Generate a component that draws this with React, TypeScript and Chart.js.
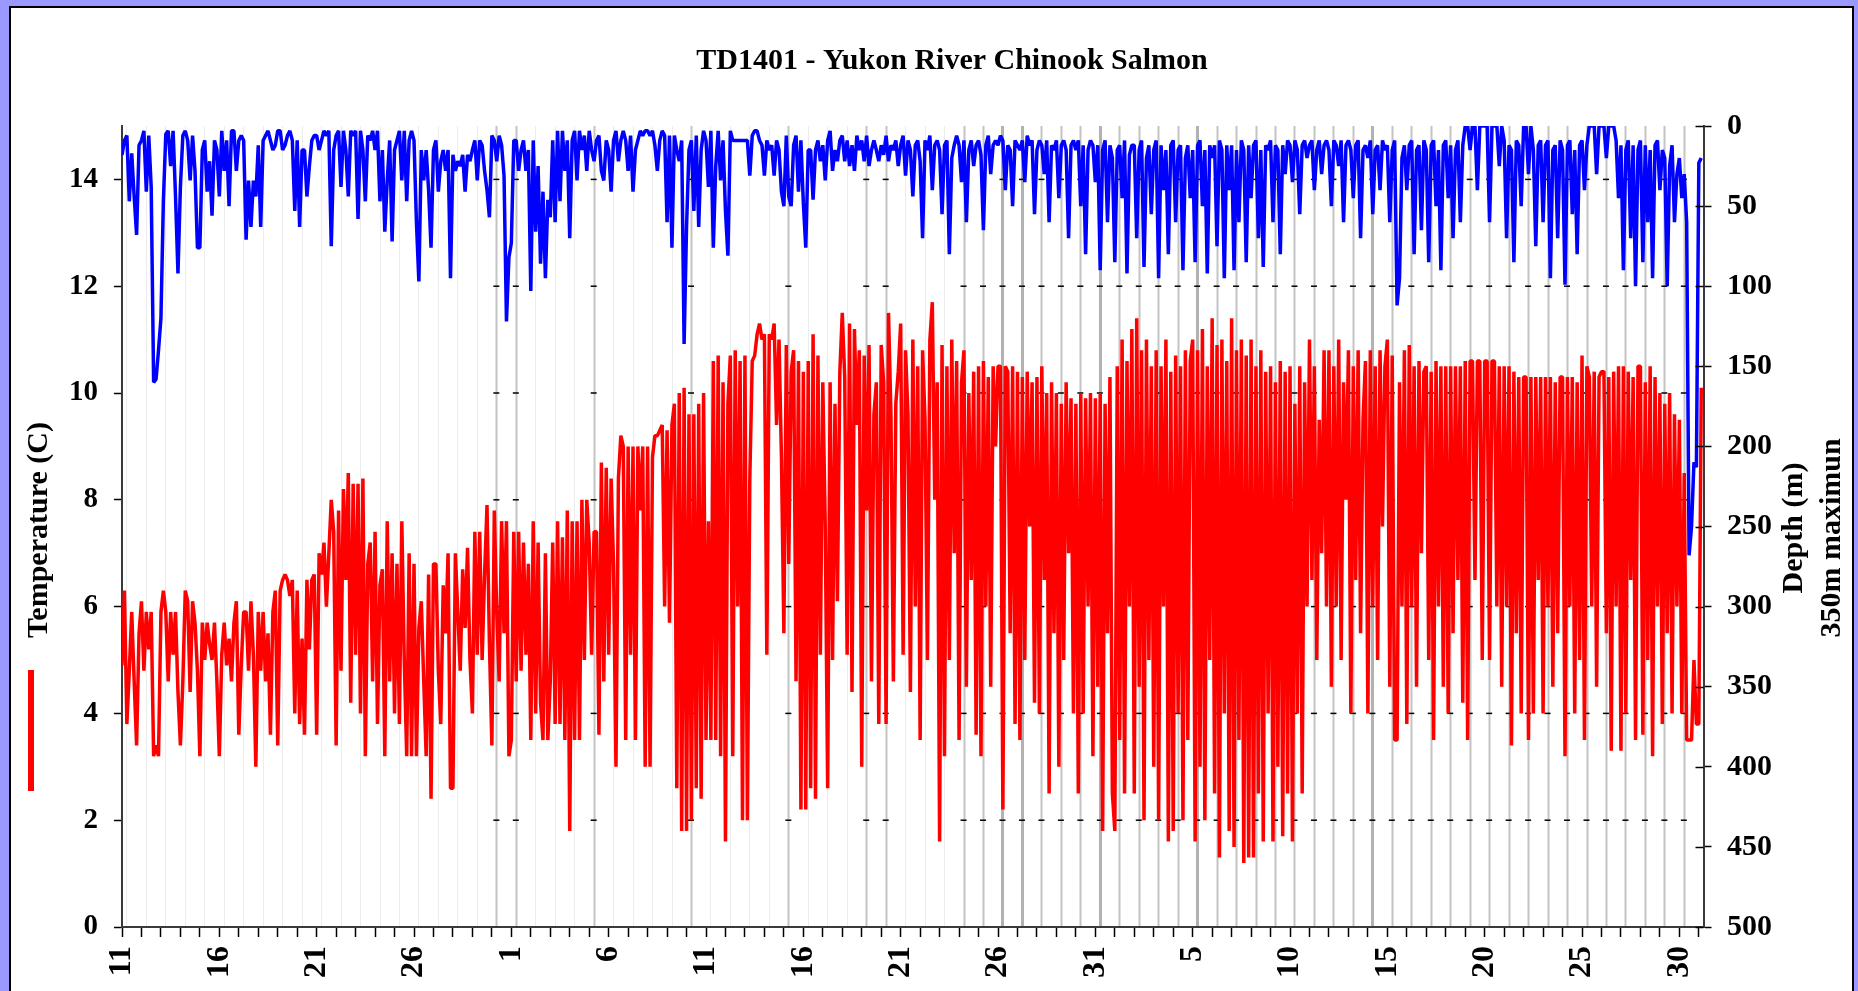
import { useEffect, useRef } from 'react';
import { Chart, registerables } from 'chart.js';

Chart.register(...registerables);

const CHART_TITLE = 'TD1401 - Yukon River Chinook Salmon';
const TEMP_AXIS_TITLE = 'Temperature (C)';
const DEPTH_AXIS_TITLE = 'Depth (m)';
const DEPTH_AXIS_NOTE = '350m maximun';

// Day-of-month labels shown every fifth day, starting 11 June.
const dateLabels = ['11', '16', '21', '26', '1', '6', '11', '16', '21', '26', '31', '5', '10', '15', '20', '25', '30'];
const tempTicks = [0, 2, 4, 6, 8, 10, 12, 14];
const depthTicks = [0, 50, 100, 150, 200, 250, 300, 350, 400, 450, 500];

// Record length in days and logger samples per day (3-hour interval).
const DAY_SPAN = 81.24;
const SAMPLES_PER_DAY = 8;

// Temperature (C), one row per day.
const temperature: number[][] = [
  [4.9, 6.3, 3.8, 4.8, 5.9, 4.6, 3.4, 5.5],
  [6.1, 4.8, 5.9, 5.2, 5.9, 3.2, 3.4, 3.2],
  [5.9, 6.3, 5.9, 4.6, 5.9, 5.1, 5.9, 4.4],
  [3.4, 4.6, 6.3, 6.1, 4.4, 6.1, 5.7, 4.8],
  [3.2, 5.7, 5.0, 5.7, 5.3, 5.0, 5.7, 4.6],
  [3.2, 5.1, 5.7, 4.9, 5.4, 4.6, 5.7, 6.1],
  [3.6, 4.9, 5.9, 5.9, 4.8, 6.1, 5.1, 3.0],
  [5.9, 4.8, 5.9, 4.6, 5.5, 3.6, 5.9, 6.3],
  [3.4, 6.3, 6.5, 6.6, 6.5, 6.2, 6.5, 4.0],
  [6.3, 3.8, 5.4, 3.6, 6.5, 5.2, 6.5, 6.6],
  [3.6, 7.0, 6.6, 7.2, 6.0, 7.0, 8.0, 7.4],
  [3.4, 7.8, 4.8, 8.2, 6.5, 8.5, 4.2, 8.3],
  [5.1, 8.3, 4.0, 8.4, 3.2, 6.8, 7.2, 4.6],
  [7.4, 3.8, 6.4, 6.7, 3.2, 7.6, 4.6, 7.0],
  [4.0, 6.8, 3.8, 7.6, 5.0, 3.2, 7.0, 3.2],
  [6.8, 3.2, 5.6, 6.1, 4.6, 3.2, 6.6, 2.4],
  [6.8, 6.8, 4.8, 3.8, 6.4, 5.5, 7.0, 2.6],
  [2.6, 7.0, 5.9, 4.8, 6.7, 5.6, 7.1, 5.0],
  [4.0, 7.4, 5.1, 7.4, 5.0, 6.6, 7.9, 5.3],
  [3.4, 7.8, 5.9, 4.6, 7.6, 5.5, 7.6, 3.2],
  [3.5, 7.4, 4.6, 7.4, 4.8, 7.2, 5.1, 6.8],
  [3.5, 7.6, 4.0, 7.2, 4.2, 3.5, 7.0, 3.5],
  [4.6, 7.2, 3.8, 7.6, 3.8, 7.3, 3.5, 7.8],
  [1.8, 7.6, 3.5, 7.6, 3.5, 8.0, 5.0, 8.0],
  [7.2, 5.1, 7.4, 7.4, 3.6, 8.7, 4.6, 8.6],
  [5.1, 8.4, 6.8, 3.0, 8.4, 9.2, 9.0, 3.5],
  [9.0, 5.1, 9.0, 3.5, 9.0, 7.8, 9.0, 3.0],
  [9.0, 3.0, 8.8, 9.2, 9.2, 9.3, 9.4, 6.0],
  [9.3, 5.7, 9.4, 9.8, 2.6, 10.0, 1.8, 10.1],
  [1.8, 9.6, 2.0, 9.6, 2.6, 9.8, 2.4, 10.0],
  [3.5, 7.6, 3.5, 10.6, 3.5, 10.7, 3.2, 10.2],
  [1.6, 9.8, 10.7, 3.2, 10.8, 6.0, 10.6, 2.0],
  [10.7, 2.0, 8.4, 10.6, 10.7, 11.1, 11.3, 11.0],
  [11.1, 5.1, 11.1, 11.0, 11.3, 9.4, 11.0, 8.8],
  [5.5, 10.9, 6.8, 10.4, 10.8, 4.6, 10.6, 2.2],
  [10.4, 2.2, 10.6, 2.6, 11.1, 2.4, 10.7, 5.1],
  [10.2, 7.5, 2.6, 10.2, 5.0, 9.8, 6.1, 10.4],
  [11.5, 10.3, 5.1, 11.3, 4.4, 11.2, 9.4, 10.8],
  [3.0, 10.7, 7.8, 10.9, 4.6, 9.6, 10.2, 3.8],
  [10.9, 10.2, 3.8, 11.5, 9.6, 4.6, 9.8, 10.4],
  [11.3, 5.1, 10.8, 9.6, 4.4, 11.0, 6.0, 10.5],
  [3.5, 10.8, 9.5, 5.0, 11.0, 11.7, 8.0, 10.2],
  [1.6, 10.9, 3.2, 10.5, 5.0, 11.0, 7.0, 10.6],
  [3.5, 10.2, 10.8, 4.5, 10.0, 6.5, 10.4, 3.6],
  [10.5, 3.2, 10.6, 6.0, 10.3, 4.5, 10.5, 9.0],
  [10.5, 10.5, 2.2, 10.5, 10.4, 5.5, 10.5, 3.8],
  [10.4, 3.5, 10.3, 5.0, 10.4, 7.5, 10.2, 4.2],
  [10.3, 4.0, 10.5, 6.5, 10.0, 2.5, 10.2, 5.5],
  [10.0, 3.0, 9.8, 5.0, 10.2, 7.0, 9.9, 4.0],
  [9.8, 2.5, 10.0, 4.0, 9.9, 6.0, 10.0, 3.2],
  [9.9, 4.5, 10.0, 1.8, 9.8, 5.5, 10.3, 2.5],
  [1.8, 10.5, 3.5, 11.0, 2.5, 10.6, 6.0, 11.2],
  [2.5, 11.4, 4.5, 10.8, 2.0, 11.0, 5.0, 10.5],
  [3.0, 10.8, 2.0, 10.5, 6.0, 11.0, 1.6, 10.4],
  [1.8, 10.7, 4.0, 10.5, 2.0, 10.8, 3.5, 10.6],
  [11.0, 1.6, 10.8, 3.0, 11.2, 2.0, 10.5, 5.0],
  [11.4, 2.5, 10.9, 1.3, 11.0, 4.0, 10.6, 1.8],
  [11.4, 1.5, 10.8, 3.5, 11.0, 1.2, 10.7, 1.3],
  [11.0, 1.3, 10.5, 2.5, 10.8, 1.6, 10.4, 4.0],
  [10.5, 1.6, 10.2, 3.0, 10.6, 1.7, 10.4, 2.5],
  [10.5, 1.6, 9.8, 4.0, 10.5, 2.5, 10.2, 6.0],
  [11.0, 6.5, 10.5, 5.0, 9.5, 7.0, 10.8, 6.0],
  [10.8, 4.5, 10.5, 6.0, 11.0, 5.0, 10.2, 8.0],
  [10.8, 4.0, 10.5, 6.5, 10.8, 5.5, 9.5, 10.6],
  [4.0, 10.8, 6.0, 10.5, 5.0, 10.8, 7.5, 10.5],
  [11.0, 4.5, 10.7, 3.5, 3.5, 10.2, 6.0, 10.8],
  [3.8, 10.9, 6.0, 10.5, 4.5, 10.6, 7.0, 10.4],
  [10.5, 5.0, 10.4, 3.5, 10.6, 6.0, 10.5, 4.5],
  [10.5, 4.0, 10.5, 5.5, 10.5, 6.5, 10.5, 4.2],
  [10.6, 3.5, 10.6, 10.6, 6.5, 10.6, 10.6, 5.0],
  [10.6, 10.6, 5.0, 10.6, 10.6, 6.0, 10.5, 4.5],
  [10.5, 6.0, 10.5, 3.4, 10.4, 5.5, 10.3, 4.0],
  [10.3, 10.3, 3.5, 10.3, 4.0, 10.3, 6.5, 10.3],
  [4.0, 10.3, 6.0, 10.3, 4.5, 10.2, 5.5, 10.3],
  [10.3, 3.2, 10.3, 6.0, 10.3, 4.0, 10.2, 5.0],
  [10.7, 3.5, 10.5, 10.3, 6.0, 10.4, 4.5, 10.3],
  [10.4, 10.4, 5.5, 10.3, 3.3, 10.4, 6.0, 10.5],
  [3.3, 10.5, 4.0, 10.4, 6.5, 10.3, 3.5, 10.5],
  [10.5, 3.6, 10.2, 5.0, 10.5, 3.2, 10.3, 6.0],
  [10.0, 3.8, 9.8, 5.5, 10.0, 4.0, 9.6, 6.0],
  [9.5, 4.0, 8.5, 3.5, 3.5, 3.5, 5.0, 3.8],
  [3.8, 10.1],
];

// Depth (m), one row per day.
const depth: number[][] = [
  [18, 9, 6, 47, 17, 44, 68, 12],
  [9, 3, 41, 6, 38, 160, 158, 140],
  [120, 47, 5, 3, 25, 3, 44, 92],
  [38, 6, 3, 9, 34, 6, 28, 76],
  [76, 15, 9, 41, 22, 56, 9, 15],
  [44, 3, 28, 9, 50, 3, 3, 28],
  [9, 6, 9, 71, 34, 63, 34, 44],
  [12, 63, 9, 6, 3, 9, 15, 12],
  [3, 3, 15, 12, 6, 3, 9, 53],
  [9, 63, 15, 15, 44, 25, 9, 6],
  [6, 15, 9, 3, 6, 3, 75, 15],
  [6, 3, 38, 3, 15, 44, 3, 6],
  [3, 58, 3, 15, 47, 6, 9, 3],
  [15, 3, 47, 15, 66, 34, 9, 72],
  [15, 9, 3, 34, 3, 47, 9, 3],
  [9, 60, 97, 15, 34, 15, 40, 76],
  [15, 9, 41, 22, 15, 28, 15, 95],
  [18, 28, 22, 25, 18, 41, 18, 22],
  [15, 9, 34, 9, 12, 28, 40, 57],
  [6, 9, 22, 6, 12, 31, 122, 82],
  [73, 9, 9, 28, 15, 9, 28, 15],
  [103, 9, 66, 25, 86, 41, 95, 46],
  [57, 9, 60, 3, 47, 3, 28, 9],
  [70, 9, 3, 34, 3, 15, 6, 28],
  [3, 15, 22, 9, 6, 28, 34, 9],
  [15, 41, 9, 3, 22, 9, 3, 9],
  [28, 6, 41, 15, 9, 3, 6, 3],
  [3, 6, 3, 12, 28, 9, 3, 6],
  [60, 6, 76, 6, 15, 22, 9, 136],
  [63, 15, 9, 53, 6, 63, 15, 3],
  [9, 38, 3, 76, 25, 3, 34, 9],
  [53, 81, 3, 9, 9, 9, 9, 9],
  [9, 9, 31, 6, 3, 3, 9, 12],
  [31, 9, 15, 12, 31, 9, 15, 41],
  [50, 6, 44, 50, 12, 6, 41, 9],
  [48, 76, 15, 15, 46, 15, 9, 22],
  [12, 34, 9, 3, 28, 15, 22, 9],
  [6, 22, 9, 25, 12, 28, 6, 15],
  [9, 22, 6, 25, 15, 9, 15, 22],
  [12, 18, 6, 22, 12, 15, 9, 25],
  [12, 6, 31, 9, 15, 44, 12, 9],
  [22, 70, 9, 15, 6, 40, 12, 9],
  [15, 55, 12, 9, 80, 20, 12, 6],
  [12, 35, 9, 60, 15, 9, 25, 12],
  [9, 18, 65, 12, 6, 30, 12, 9],
  [12, 6, 9, 40, 12, 15, 50, 9],
  [12, 15, 9, 35, 6, 12, 9, 55],
  [15, 9, 12, 30, 9, 60, 12, 15],
  [9, 45, 12, 9, 15, 70, 12, 9],
  [15, 9, 50, 12, 80, 15, 9, 12],
  [35, 12, 90, 15, 9, 60, 12, 20],
  [85, 15, 12, 45, 9, 92, 18, 12],
  [12, 70, 15, 9, 88, 20, 12, 55],
  [15, 9, 95, 12, 40, 15, 80, 12],
  [9, 60, 15, 12, 90, 20, 12, 45],
  [15, 85, 12, 9, 50, 15, 92, 12],
  [20, 12, 75, 9, 15, 95, 12, 40],
  [12, 90, 15, 60, 9, 15, 85, 12],
  [45, 12, 9, 70, 15, 88, 12, 15],
  [9, 60, 12, 15, 80, 12, 30, 9],
  [12, 35, 9, 15, 55, 12, 9, 20],
  [12, 9, 40, 15, 9, 30, 12, 9],
  [15, 50, 9, 12, 25, 9, 60, 12],
  [9, 15, 45, 12, 9, 70, 15, 12],
  [20, 9, 55, 15, 12, 40, 9, 15],
  [12, 60, 15, 9, 112, 95, 20, 12],
  [40, 12, 9, 80, 15, 12, 65, 9],
  [15, 85, 12, 9, 50, 15, 90, 12],
  [9, 45, 12, 70, 15, 9, 60, 12],
  [0, 0, 15, 0, 0, 40, 0, 0],
  [0, 0, 60, 0, 0, 0, 25, 0],
  [9, 70, 12, 15, 85, 9, 12, 50],
  [0, 0, 30, 0, 15, 75, 12, 9],
  [60, 12, 9, 95, 15, 12, 70, 9],
  [15, 99, 12, 9, 55, 15, 80, 12],
  [9, 40, 12, 0, 0, 0, 30, 0],
  [0, 0, 20, 0, 0, 0, 9, 45],
  [12, 90, 15, 9, 70, 12, 100, 15],
  [9, 85, 12, 60, 15, 95, 12, 9],
  [40, 15, 20, 100, 25, 12, 60, 30],
  [20, 45, 30, 60, 268, 250, 210, 213],
  [23, 20],
];

// Shade of the daily reference line drawn a few hours after each midnight:
// 1 = faint, 2 = grey, 3 = dark grey.
const dayLineShade = [
  1, 1, 1, 1, 1, 1, 1, 1, 1, 1, 1, 1, 1, 1, 1, 1, 1, 1, 1,
  2, 2, 1, 1, 1, 2, 1, 1, 1, 1, 2, 1, 1, 1, 1, 2, 1, 1, 1, 2, 2,
  1, 1, 1, 2, 2, 3, 3, 2, 2, 2, 3, 2, 2, 2, 2, 3,
  2, 2, 2, 2, 2, 2, 2, 2, 3,
  2, 2, 2, 2, 2, 2, 2, 2, 2, 2, 2, 2, 2, 2, 2, 2,
];
const DAY_LINE_OFFSET = 0.23;

const SERIF = '"Liberation Serif", "Times New Roman", serif';
const dayTicks = Array.from({ length: 82 }, (_, i) => i);

const toPoints = (rows: number[][]) =>
  rows.flat().map((v, i) => ({ x: i / SAMPLES_PER_DAY, y: v }));

const decorPlugin = {
  id: 'decor',
  beforeDraw(chart: any) {
    const { ctx, width, height } = chart;
    ctx.save();
    ctx.fillStyle = '#9999FF';
    ctx.fillRect(0, 0, width, height);
    ctx.fillStyle = '#FFFFFF';
    ctx.fillRect(10, 7, 1843, height);
    ctx.strokeStyle = '#000000';
    ctx.lineWidth = 2;
    ctx.strokeRect(10, 7, 1843, height + 20);
    ctx.restore();
  },
  beforeDatasetsDraw(chart: any) {
    const { ctx, chartArea, scales } = chart;
    const xs = scales.x;
    const yt = scales.yTemp;
    ctx.save();
    ctx.beginPath();
    ctx.rect(chartArea.left, chartArea.top, chartArea.right - chartArea.left, chartArea.bottom - chartArea.top - 1);
    ctx.clip();
    dayLineShade.forEach((shade, d) => {
      const px = Math.round(xs.getPixelForValue(d + DAY_LINE_OFFSET)) + 0.5;
      if (shade === 1) {
        ctx.strokeStyle = '#ececec';
        ctx.lineWidth = 1;
      } else if (shade === 2) {
        ctx.strokeStyle = '#c4c4c4';
        ctx.lineWidth = 2;
      } else {
        ctx.strokeStyle = '#b2b2b2';
        ctx.lineWidth = 3;
      }
      ctx.beginPath();
      ctx.moveTo(px, chartArea.top);
      ctx.lineTo(px, chartArea.bottom);
      ctx.stroke();
    });
    // short black marks where the temperature levels cross the grey day lines
    ctx.fillStyle = '#000000';
    tempTicks.slice(1).forEach((t) => {
      const py = yt.getPixelForValue(t);
      dayLineShade.forEach((shade, d) => {
        if (shade < 2) return;
        const px = xs.getPixelForValue(d + DAY_LINE_OFFSET);
        ctx.fillRect(px - 3, py - 0.75, 6, 1.5);
      });
    });
    ctx.restore();
  },
  afterDraw(chart: any) {
    const { ctx, chartArea, scales } = chart;
    ctx.save();
    ctx.fillStyle = '#000000';
    ctx.textBaseline = 'alphabetic';

    ctx.font = `bold 30px ${SERIF}`;
    ctx.textAlign = 'center';
    ctx.fillText(CHART_TITLE, 952, 69);

    ctx.font = `bold 30px ${SERIF}`;
    const rotated = (text: string, x: number, y: number) => {
      ctx.save();
      ctx.translate(x, y);
      ctx.rotate(-Math.PI / 2);
      ctx.textAlign = 'center';
      ctx.fillText(text, 0, 0);
      ctx.restore();
    };
    rotated(TEMP_AXIS_TITLE, 47, 530);
    rotated(DEPTH_AXIS_TITLE, 1802, 528);
    rotated(DEPTH_AXIS_NOTE, 1840, 538);

    // series key under the temperature title
    ctx.fillStyle = '#FF0000';
    ctx.fillRect(28, 670, 6, 121);

    // inner half of the depth-axis tick marks
    const yd = scales.yDepth;
    ctx.strokeStyle = '#000000';
    ctx.lineWidth = 1.5;
    depthTicks.forEach((v) => {
      const py = Math.round(yd.getPixelForValue(v)) + 0.5;
      ctx.beginPath();
      ctx.moveTo(chartArea.right - 8, py);
      ctx.lineTo(chartArea.right, py);
      ctx.stroke();
    });
    ctx.restore();
  },
};

export default function App() {
  const canvasRef = useRef<HTMLCanvasElement>(null);

  useEffect(() => {
    const canvas = canvasRef.current;
    if (!canvas) return;
    const tickFont = { family: SERIF, size: 29, weight: 'bold' as const };
    const axisBorder = { display: true, color: '#3a3a3a', width: 2 };

    const chart = new Chart(canvas, {
      type: 'line',
      data: {
        datasets: [
          {
            label: 'Depth (m)',
            data: toPoints(depth),
            yAxisID: 'yDepth',
            borderColor: '#0000FF',
            borderWidth: 3.5,
            pointRadius: 0,
            tension: 0,
            borderJoinStyle: 'bevel',
          },
          {
            label: 'Temperature (C)',
            data: toPoints(temperature),
            yAxisID: 'yTemp',
            borderColor: '#FF0000',
            borderWidth: 3.5,
            pointRadius: 0,
            tension: 0,
            borderJoinStyle: 'bevel',
          },
        ],
      },
      options: {
        responsive: false,
        animation: false,
        devicePixelRatio: 1,
        events: [],
        layout: { padding: { left: 0, right: 0, top: 126, bottom: 0 } },
        plugins: {
          legend: { display: false },
          tooltip: { enabled: false },
          title: { display: false },
        },
        scales: {
          x: {
            type: 'linear',
            position: 'bottom',
            min: 0,
            max: DAY_SPAN,
            afterBuildTicks: (s: any) => {
              s.ticks = dayTicks.map((v) => ({ value: v }));
            },
            afterFit: (s: any) => {
              s.height = 64;
            },
            grid: { drawOnChartArea: false, drawTicks: true, tickLength: 10, tickColor: '#000000', tickWidth: 1.5 },
            border: axisBorder,
            ticks: {
              autoSkip: false,
              maxRotation: 90,
              minRotation: 90,
              padding: 9,
              color: '#000000',
              font: { ...tickFont, size: 32 },
              callback: (value: any) => {
                const v = Number(value);
                return v % 5 === 0 ? dateLabels[v / 5] ?? '' : '';
              },
            },
          },
          yTemp: {
            type: 'linear',
            position: 'left',
            min: 0,
            max: 15,
            afterBuildTicks: (s: any) => {
              s.ticks = tempTicks.map((v) => ({ value: v }));
            },
            afterFit: (s: any) => {
              s.width = 122;
            },
            grid: { drawOnChartArea: false, drawTicks: true, tickLength: 8, tickColor: '#000000', tickWidth: 1.5 },
            border: axisBorder,
            ticks: { padding: 16, color: '#000000', font: tickFont },
          },
          yDepth: {
            type: 'linear',
            position: 'right',
            reverse: true,
            min: 0,
            max: 500,
            afterBuildTicks: (s: any) => {
              s.ticks = depthTicks.map((v) => ({ value: v }));
            },
            afterFit: (s: any) => {
              s.width = 154.5;
            },
            grid: { drawOnChartArea: false, drawTicks: true, tickLength: 8, tickColor: '#000000', tickWidth: 1.5 },
            border: axisBorder,
            ticks: { padding: 15.5, color: '#000000', font: { ...tickFont, size: 30 } },
          },
        },
      },
      plugins: [decorPlugin],
    } as any);

    return () => chart.destroy();
  }, []);

  return (
    <div style={{ position: 'fixed', left: 0, top: 0, width: 1858, height: 991 }}>
      <canvas ref={canvasRef} width={1858} height={991} style={{ display: 'block' }} />
    </div>
  );
}
